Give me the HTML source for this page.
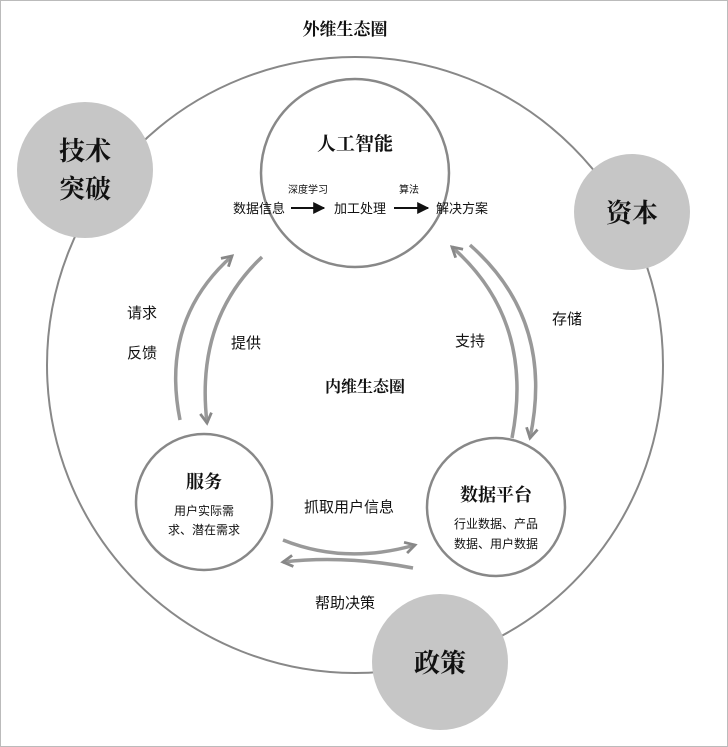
<!DOCTYPE html>
<html><head><meta charset="utf-8"><style>
html,body{margin:0;padding:0;background:#fff}
svg{display:block}
text{font-family:"Liberation Sans","Noto Sans CJK SC",sans-serif;fill:#111}
.s{font-family:"Liberation Serif","Noto Serif CJK SC",serif;font-weight:bold}
</style></head><body>
<svg width="728" height="747" viewBox="0 0 728 747" xmlns="http://www.w3.org/2000/svg">
<defs>
<marker id="a" viewBox="0 0 10 10" refX="8" refY="5" markerWidth="4" markerHeight="4" orient="auto"><path d="M1,1 L8,5 L1,9" fill="none" stroke="#888" stroke-width="2"/></marker>
<marker id="b" viewBox="0 0 10 10" refX="9" refY="5" markerWidth="6" markerHeight="6" orient="auto"><path d="M0,0 L10,5 L0,10 z" fill="#111"/></marker>
</defs>
<rect x="0.5" y="0.5" width="727" height="746" fill="#fff" stroke="#bbb"/>
<circle cx="355" cy="365" r="308" fill="none" stroke="#888" stroke-width="2"/>
<text x="345" y="35" class="s" font-size="17" text-anchor="middle">外维生态圈</text>
<circle cx="85" cy="170" r="68" fill="#c6c6c6"/>
<text x="85" y="160" class="s" font-size="26" text-anchor="middle">技术</text>
<text x="85" y="198" class="s" font-size="26" text-anchor="middle">突破</text>
<circle cx="632" cy="212" r="58" fill="#c6c6c6"/>
<text x="632" y="222" class="s" font-size="26" text-anchor="middle">资本</text>
<circle cx="440" cy="662" r="68" fill="#c6c6c6"/>
<text x="440" y="672" class="s" font-size="26" text-anchor="middle">政策</text>

<circle cx="355" cy="173" r="94" fill="#fff" stroke="#888" stroke-width="2.5"/>
<text x="355" y="150" class="s" font-size="19" text-anchor="middle">人工智能</text>
<text x="308" y="193" font-size="10" text-anchor="middle">深度学习</text>
<text x="409" y="193" font-size="10" text-anchor="middle">算法</text>
<text x="259" y="213" font-size="13" text-anchor="middle">数据信息</text>
<text x="360" y="213" font-size="13" text-anchor="middle">加工处理</text>
<text x="462" y="213" font-size="13" text-anchor="middle">解决方案</text>
<line x1="291" y1="208" x2="324" y2="208" stroke="#111" stroke-width="2" marker-end="url(#b)"/>
<line x1="394" y1="208" x2="428" y2="208" stroke="#111" stroke-width="2" marker-end="url(#b)"/>

<circle cx="204" cy="502" r="68" fill="#fff" stroke="#888" stroke-width="2.5"/>
<text x="204" y="488" class="s" font-size="18" text-anchor="middle">服务</text>
<text x="204" y="515" font-size="12" text-anchor="middle">用户实际需</text>
<text x="204" y="534" font-size="12" text-anchor="middle">求、潜在需求</text>
<circle cx="496" cy="507" r="69" fill="#fff" stroke="#888" stroke-width="2.5"/>
<text x="496" y="501" class="s" font-size="18" text-anchor="middle">数据平台</text>
<text x="496" y="528" font-size="12" text-anchor="middle">行业数据、产品</text>
<text x="496" y="548" font-size="12" text-anchor="middle">数据、用户数据</text>

<g fill="none" stroke="#999" stroke-width="3.5" marker-end="url(#a)">
<path d="M180,420 Q160,320 232,256"/>
<path d="M262,257 Q195,320 207,423"/>
<path d="M512,438 Q535,320 452,247"/>
<path d="M470,245 Q555,320 530,438"/>
<path d="M283,540 Q345,565 415,545"/>
<path d="M413,568 Q345,555 283,562"/>
</g>
<text x="142" y="318" font-size="15" text-anchor="middle">请求</text>
<text x="142" y="358" font-size="15" text-anchor="middle">反馈</text>
<text x="246" y="348" font-size="15" text-anchor="middle">提供</text>
<text x="470" y="346" font-size="15" text-anchor="middle">支持</text>
<text x="567" y="324" font-size="15" text-anchor="middle">存储</text>
<text x="365" y="392" class="s" font-size="16" text-anchor="middle">内维生态圈</text>
<text x="349" y="512" font-size="15" text-anchor="middle">抓取用户信息</text>
<text x="345" y="608" font-size="15" text-anchor="middle">帮助决策</text>
</svg>
</body></html>
